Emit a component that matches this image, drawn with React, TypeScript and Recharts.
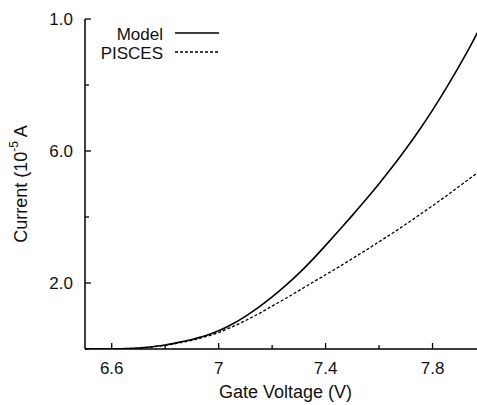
import React from 'react';
import { LineChart, Line, XAxis, YAxis, Legend } from 'recharts';

// gate voltage sweep (V)
const volts = [
  6.5, 6.55, 6.6, 6.65, 6.7, 6.75, 6.8, 6.85, 6.9, 6.95,
  7.0, 7.05, 7.1, 7.15, 7.2, 7.25, 7.3, 7.35, 7.4, 7.45,
  7.5, 7.55, 7.6, 7.65, 7.7, 7.75, 7.8, 7.85, 7.9, 7.95,
  8.0,
];

// drain current, units of 1e-5 A
const model = [
  0, 0, 0, 0.01, 0.03, 0.07, 0.12, 0.2, 0.29, 0.4,
  0.55, 0.75, 0.99, 1.27, 1.58, 1.92, 2.29, 2.7, 3.14, 3.59,
  4.05, 4.52, 5.01, 5.52, 6.06, 6.63, 7.24, 7.89, 8.58, 9.31,
  10.08,
];
const pisces = [
  0, 0, 0, 0.01, 0.03, 0.06, 0.11, 0.18, 0.26, 0.37,
  0.5, 0.67, 0.86, 1.07, 1.3, 1.53, 1.77, 2.01, 2.25, 2.49,
  2.74, 2.99, 3.25, 3.51, 3.78, 4.06, 4.34, 4.63, 4.93, 5.23,
  5.53,
];

const xTicks = [6.6, 6.8, 7.0, 7.2, 7.4, 7.6, 7.8];
const xLabels: Record<string, string> = { '6.6': '6.6', '7': '7', '7.4': '7.4', '7.8': '7.8' };
const yTicks = [0, 2, 4, 6, 8, 10];
const yLabels: Record<string, string> = { '2': '2.0', '6': '6.0', '10': '1.0' };

const data = volts.map((v, i) => ({ v, model: model[i], pisces: pisces[i] }));

const dashes: Record<string, string | undefined> = { model: undefined, pisces: '3 2' };

const FONT = '"Liberation Sans", Arial, sans-serif';

const XTick = (props: any) => {
  const { x, y, payload, top } = props;
  const label = xLabels[String(payload.value)];
  const len = label ? 6 : 4;
  return (
    <g>
      <line x1={x} x2={x} y1={y} y2={top ? y + len : y - len} stroke="#000" strokeWidth={1.3} />
      {!top && label && (
        <text x={x} y={y + 25} textAnchor="middle" fontSize={17} fill="#111" fontFamily={FONT}>
          {label}
        </text>
      )}
    </g>
  );
};

const YTick = (props: any) => {
  const { x, y, payload } = props;
  const label = yLabels[String(payload.value)];
  const len = label ? 6 : 4;
  return (
    <g>
      <line x1={x} x2={x + len} y1={y} y2={y} stroke="#000" strokeWidth={1.3} />
      {label && (
        <text x={x - 12} y={y + 6} textAnchor="end" fontSize={17} fill="#111" fontFamily={FONT}>
          {label}
        </text>
      )}
    </g>
  );
};

const YTitle = (props: any) => {
  const { viewBox } = props;
  const cx = viewBox.x + 21;
  const cy = viewBox.y + viewBox.height / 2;
  return (
    <text
      x={cx}
      y={cy}
      transform={`rotate(-90 ${cx} ${cy})`}
      textAnchor="middle"
      dominantBaseline="central"
      fontSize={18}
      fill="#111"
      fontFamily={FONT}
    >
      Current (10
      <tspan dy={-7} fontSize={12}>-5</tspan>
      <tspan dy={7}> A</tspan>
    </text>
  );
};

const XTitle = (props: any) => {
  const { viewBox } = props;
  return (
    <text
      x={viewBox.x + viewBox.width / 2}
      y={viewBox.y + 49}
      textAnchor="middle"
      fontSize={18}
      fill="#111"
      fontFamily={FONT}
    >
      Gate Voltage (V)
    </text>
  );
};

const KeyBox = (props: any) => {
  const { payload } = props;
  return (
    <svg width={150} height={44}>
      {(payload || []).map((p: any, i: number) => {
        const y = 11 + i * 19;
        return (
          <g key={p.dataKey}>
            <text x={73} y={y + 7} textAnchor="end" fontSize={17} fill="#111" fontFamily={FONT}>
              {p.value}
            </text>
            <line
              x1={85}
              x2={129}
              y1={y}
              y2={y}
              stroke="#000"
              strokeWidth={1.3}
              strokeDasharray={dashes[p.dataKey]}
            />
          </g>
        );
      })}
    </svg>
  );
};

export default function App() {
  return (
    <div
      style={{
        position: 'fixed',
        left: 0,
        top: 0,
        width: 477,
        height: 405,
        overflow: 'hidden',
        background: '#fff',
        fontFamily: FONT,
      }}
    >
      <LineChart width={500} height={405} data={data} margin={{ top: 19, right: 14, bottom: 0, left: 0 }}>
        <XAxis
          dataKey="v"
          type="number"
          domain={[6.5, 8.0]}
          ticks={xTicks}
          allowDataOverflow
          height={56}
          tickSize={0}
          tickMargin={0}
          tick={<XTick />}
          tickLine={false}
          axisLine={{ stroke: '#000', strokeWidth: 1.5 }}
          label={<XTitle />}
        />
        <XAxis
          xAxisId="top"
          orientation="top"
          dataKey="v"
          type="number"
          domain={[6.5, 8.0]}
          ticks={xTicks}
          allowDataOverflow
          height={0}
          tickSize={0}
          tickMargin={0}
          tick={<XTick top />}
          tickLine={false}
          axisLine={{ stroke: '#000', strokeWidth: 1.5 }}
        />
        <YAxis
          type="number"
          domain={[0, 10]}
          ticks={yTicks}
          allowDataOverflow
          width={85}
          tickSize={0}
          tickMargin={0}
          tick={<YTick />}
          tickLine={false}
          axisLine={{ stroke: '#000', strokeWidth: 1.5 }}
          label={<YTitle />}
        />
        <Legend
          layout="vertical"
          align="center"
          verticalAlign="middle"
          wrapperStyle={{ top: 22, left: 90, width: 150, height: 44 }}
          content={<KeyBox />}
        />
        <Line
          name="Model"
          dataKey="model"
          type="monotone"
          stroke="#000"
          strokeWidth={1.6}
          dot={false}
          isAnimationActive={false}
        />
        <Line
          name="PISCES"
          dataKey="pisces"
          type="monotone"
          stroke="#000"
          strokeWidth={1.3}
          strokeDasharray="3 2"
          dot={false}
          isAnimationActive={false}
        />
      </LineChart>
    </div>
  );
}
